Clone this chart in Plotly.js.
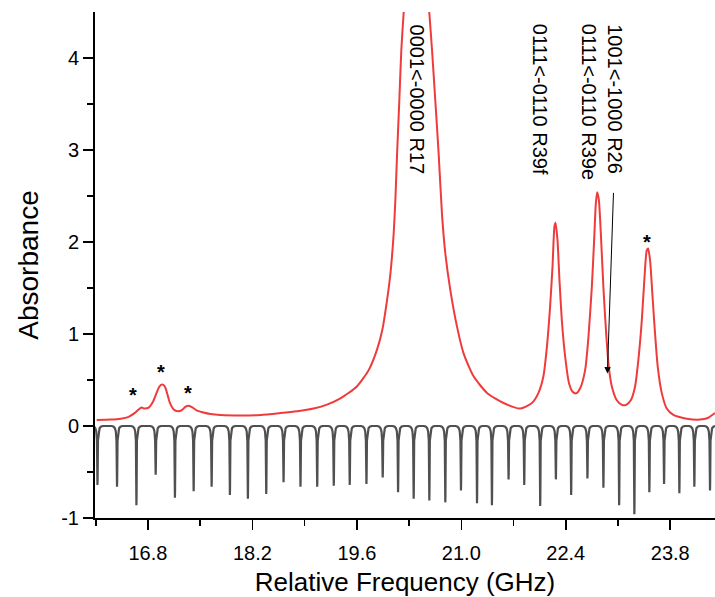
<!DOCTYPE html>
<html>
<head>
<meta charset="utf-8">
<script src="https://cdn.plot.ly/plotly-3.0.1.min.js"></script>
<style>html,body{margin:0;padding:0;background:#fff;}#chart{width:715px;height:597px;}</style>
</head>
<body>
<div id="chart"></div>
<script>
// Absorbance spectrum (red)
const redFreq = [16.113,16.30,16.435,16.54,16.62,16.675,16.715,16.755,16.81,16.865,16.915,16.955,16.99,17.025,17.055,17.09,17.145,17.20,17.25,17.305,17.345,17.40,17.45,17.53,17.64,17.77,18.04,18.31,18.575,18.80,19.02,19.19,19.38,19.60,19.76,19.87,19.94,20.005,20.05,20.093,20.116,20.139,20.169,20.196,20.227,20.397,20.571,20.607,20.651,20.696,20.741,20.785,20.852,20.942,21.03,21.164,21.344,21.566,21.789,21.946,22.034,22.10,22.147,22.19,22.222,22.248,22.262,22.289,22.315,22.347,22.392,22.445,22.495,22.539,22.593,22.66,22.704,22.749,22.78,22.803,22.82,22.843,22.87,22.904,22.941,22.977,23.017,23.084,23.151,23.209,23.271,23.329,23.373,23.419,23.453,23.485,23.503,23.53,23.56,23.596,23.633,23.686,23.753,23.842,24.021,24.199,24.31,24.40];
const redAbs = [0.065,0.07,0.08,0.10,0.14,0.18,0.20,0.19,0.20,0.26,0.36,0.43,0.45,0.43,0.36,0.26,0.18,0.16,0.17,0.21,0.22,0.20,0.17,0.15,0.13,0.12,0.115,0.12,0.14,0.16,0.19,0.23,0.30,0.43,0.61,0.83,1.04,1.37,1.66,2.09,2.46,2.96,3.54,4.09,4.49,6.2,4.49,4.09,3.54,2.96,2.30,1.88,1.48,1.08,0.79,0.54,0.36,0.25,0.19,0.25,0.36,0.54,0.86,1.30,1.73,2.17,2.21,2.02,1.59,1.15,0.75,0.46,0.37,0.355,0.41,0.61,0.97,1.51,2.02,2.42,2.54,2.46,2.09,1.51,1.01,0.64,0.43,0.28,0.23,0.23,0.28,0.43,0.72,1.15,1.59,1.91,1.93,1.80,1.44,1.01,0.64,0.36,0.19,0.12,0.08,0.07,0.09,0.14];

// Etalon comb (gray): dip positions and depths
const combFreq = [16.123,16.385,16.645,16.903,17.161,17.412,17.653,17.898,18.139,18.385,18.617,18.844,19.068,19.290,19.504,19.728,19.946,20.152,20.361,20.571,20.785,20.995,21.210,21.410,21.633,21.843,22.057,22.267,22.472,22.690,22.904,23.115,23.319,23.520,23.717,23.922,24.123,24.333];
const combDepth = [-0.64,-0.66,-0.86,-0.53,-0.78,-0.71,-0.66,-0.75,-0.79,-0.74,-0.61,-0.66,-0.66,-0.65,-0.64,-0.63,-0.56,-0.72,-0.79,-0.81,-0.83,-0.70,-0.84,-0.86,-0.58,-0.64,-0.87,-0.58,-0.75,-0.57,-0.67,-0.86,-0.96,-0.72,-0.63,-0.73,-0.66,-0.70];

// Peak labels
const labelText = ["0001&lt;-0000 R17","0111&lt;-0110 R39f","0111&lt;-0110 R39e","1001&lt;-1000 R26"];
const labelFreq = [20.40,22.065,22.716,23.058];
const labelTop = [4.39,4.39,4.39,4.39];

// Asterisk markers
const starFreq = [16.60,16.97,17.34,23.493];
const starAbs = [0.335,0.59,0.36,1.995];

// Arrow for R26
const arrowTip = [22.958,0.57];
const arrowTail = [23.04,2.55];

const xTicks = [16.8,18.2,19.6,21.0,22.4,23.8];
const xTickText = ["16.8","18.2","19.6","21.0","22.4","23.8"];
const yTicks = [-1,0,1,2,3,4];
const yTickText = ["-1","0","1","2","3","4"];

// build comb line
const cx = [], cy = [];
cx.push(16.0); cy.push(0);
const off = [-0.07,-0.045,-0.028,-0.016,-0.007,-0.002,0,0.002,0.007,0.016,0.028,0.045,0.07];
for (let i = 0; i < combFreq.length; i++) {
  const c = combFreq[i], d = combDepth[i];
  const ys = [0,-0.008,-0.025,-0.06,-0.16,d*0.9,d,d*0.9,-0.16,-0.06,-0.025,-0.008,0];
  for (let k = 0; k < off.length; k++) { cx.push(c + off[k]); cy.push(ys[k]); }
}
cx.push(24.5); cy.push(0);

const FONT = 'Arial, "Liberation Sans", sans-serif';

const traces = [
  {x: cx, y: cy, type: 'scatter', mode: 'lines', line: {color: '#505050', width: 2.2}, hoverinfo: 'skip'},
  {x: redFreq, y: redAbs, type: 'scatter', mode: 'lines', line: {color: '#ef3b3b', width: 2, shape: 'spline', smoothing: 0.6}, hoverinfo: 'skip'}
];

const annotations = [];
for (let i = 0; i < labelText.length; i++) {
  annotations.push({x: labelFreq[i], y: labelTop[i], xref: 'x', yref: 'y', text: labelText[i], showarrow: false,
    textangle: 90, xanchor: 'center', yanchor: 'top', font: {family: FONT, size: 20, color: '#000'}});
}
for (let i = 0; i < starFreq.length; i++) {
  annotations.push({x: starFreq[i], y: starAbs[i], xref: 'x', yref: 'y', text: '<b>*</b>', showarrow: false,
    xanchor: 'center', yanchor: 'middle', font: {family: FONT, size: 20, color: '#000'}});
}
annotations.push({x: arrowTip[0], y: arrowTip[1], ax: arrowTail[0], ay: arrowTail[1], axref: 'x', ayref: 'y',
  xref: 'x', yref: 'y', text: '', showarrow: true, arrowhead: 2, arrowsize: 1.3, arrowwidth: 1, arrowcolor: '#000'});

const layout = {
  width: 715, height: 597,
  margin: {l: 95, r: 0, t: 12, b: 79},
  paper_bgcolor: '#fff', plot_bgcolor: '#fff',
  showlegend: false,
  font: {family: FONT, color: '#000'},
  xaxis: {
    range: [16.09, 24.40],
    tickvals: xTicks, ticktext: xTickText,
    ticks: 'outside', ticklen: 10, tickwidth: 1.5, tickcolor: '#000',
    minor: {tickvals: [16.1,17.5,18.9,20.3,21.7,23.1,24.5], ticks: 'outside', ticklen: 6, tickwidth: 1.5, tickcolor: '#000'},
    showline: true, linecolor: '#000', linewidth: 2,
    showgrid: false, zeroline: false,
    tickfont: {family: FONT, size: 20, color: '#000'},
    ticklabelstandoff: 6,
    title: {text: 'Relative Frequency (GHz)', font: {family: FONT, size: 26, color: '#000'}, standoff: 12}
  },
  yaxis: {
    range: [-1, 4.5],
    tickvals: yTicks, ticktext: yTickText,
    ticks: 'outside', ticklen: 10, tickwidth: 1.5, tickcolor: '#000',
    minor: {tickvals: [-0.5,0.5,1.5,2.5,3.5], ticks: 'outside', ticklen: 6, tickwidth: 1.5, tickcolor: '#000'},
    showline: true, linecolor: '#000', linewidth: 2,
    showgrid: false, zeroline: false,
    tickfont: {family: FONT, size: 20, color: '#000'},
    title: {text: 'Absorbance', font: {family: FONT, size: 28, color: '#000'}, standoff: 14}
  },
  shapes: [
    {type: 'line', xref: 'paper', yref: 'paper', x0: -0.018, x1: 0, y0: 0, y1: 0, line: {color: '#000', width: 2}}
  ],
  annotations: annotations
};

Plotly.newPlot('chart', traces, layout, {displayModeBar: false, staticPlot: true});
</script>
</body>
</html>
